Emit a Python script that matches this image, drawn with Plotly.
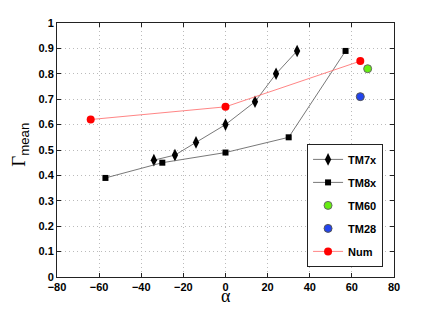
import plotly.graph_objects as go

tm7x_alpha = [-34, -24, -14, 0, 14, 24, 34]
tm7x_gamma = [0.46, 0.48, 0.53, 0.60, 0.69, 0.80, 0.89]
tm8x_alpha = [-57, -30, 0, 30, 57]
tm8x_gamma = [0.39, 0.45, 0.49, 0.55, 0.89]
tm60_alpha = [67.5]
tm60_gamma = [0.82]
tm28_alpha = [64]
tm28_gamma = [0.71]
num_alpha = [-64, 0, 64]
num_gamma = [0.62, 0.67, 0.85]

fig = go.Figure()
fig.add_trace(go.Scatter(x=tm7x_alpha, y=tm7x_gamma, name="TM7x", mode="lines+markers", legendgroup="a",
                         line=dict(color="#555555", width=0.8),
                         marker=dict(symbol="diamond-tall", size=9, color="black")))
fig.add_trace(go.Scatter(x=tm8x_alpha, y=tm8x_gamma, name="TM8x", mode="lines+markers", legendgroup="b",
                         line=dict(color="#555555", width=0.8),
                         marker=dict(symbol="square", size=6, color="black")))
fig.add_trace(go.Scatter(x=tm60_alpha, y=tm60_gamma, name="TM60", mode="markers", legendgroup="c",
                         marker=dict(symbol="circle", size=8, color="#66ee11",
                                     line=dict(color="#666666", width=1))))
fig.add_trace(go.Scatter(x=tm28_alpha, y=tm28_gamma, name="TM28", mode="markers", legendgroup="d",
                         marker=dict(symbol="circle", size=8, color="#2244ee",
                                     line=dict(color="#555555", width=1))))
fig.add_trace(go.Scatter(x=num_alpha, y=num_gamma, name="Num", mode="lines+markers", legendgroup="e",
                         line=dict(color="#ff6666", width=0.8),
                         marker=dict(symbol="circle", size=8, color="#ff0000")))

tickfont = dict(family="Liberation Sans, Arial", size=11, color="black", weight="bold")
axis_common = dict(showline=True, linecolor="#222222", linewidth=1, mirror="ticks",
                   ticks="inside", ticklen=4, tickcolor="#222222",
                   showgrid=True, gridcolor="#bbbbbb", griddash="1px,3px", gridwidth=1,
                   zeroline=False, tickfont=tickfont, automargin=False)

fig.update_layout(
    width=436, height=312,
    margin=dict(l=49, r=50, t=15, b=43),
    paper_bgcolor="white", plot_bgcolor="white",
    showlegend=True,
    legend=dict(x=0.742, y=0.524, xanchor="left", yanchor="top",
                bordercolor="#222222", borderwidth=1, bgcolor="white",
                font=dict(family="Liberation Sans, Arial", size=11, color="black", weight="bold"),
                traceorder="grouped", tracegroupgap=4, itemwidth=30),
    xaxis=dict(range=[-80, 80], dtick=20, **axis_common),
    yaxis=dict(range=[0, 1], dtick=0.1, tickformat="~g", **axis_common),
    annotations=[
        dict(text="α", xref="paper", yref="paper", x=0.5, y=-0.075, showarrow=False,
             xanchor="center", yanchor="middle",
             font=dict(family="Liberation Serif, Times New Roman", size=18, color="black")),
        dict(text="Γ<sub><span style='font-family:Liberation Sans'>mean</span></sub>", xref="paper", yref="paper",
             x=-0.11, y=0.52, showarrow=False, textangle=-90,
             xanchor="center", yanchor="middle",
             font=dict(family="Liberation Serif, Times New Roman", size=19, color="black")),
    ],
)

fig.write_html("out.html")
